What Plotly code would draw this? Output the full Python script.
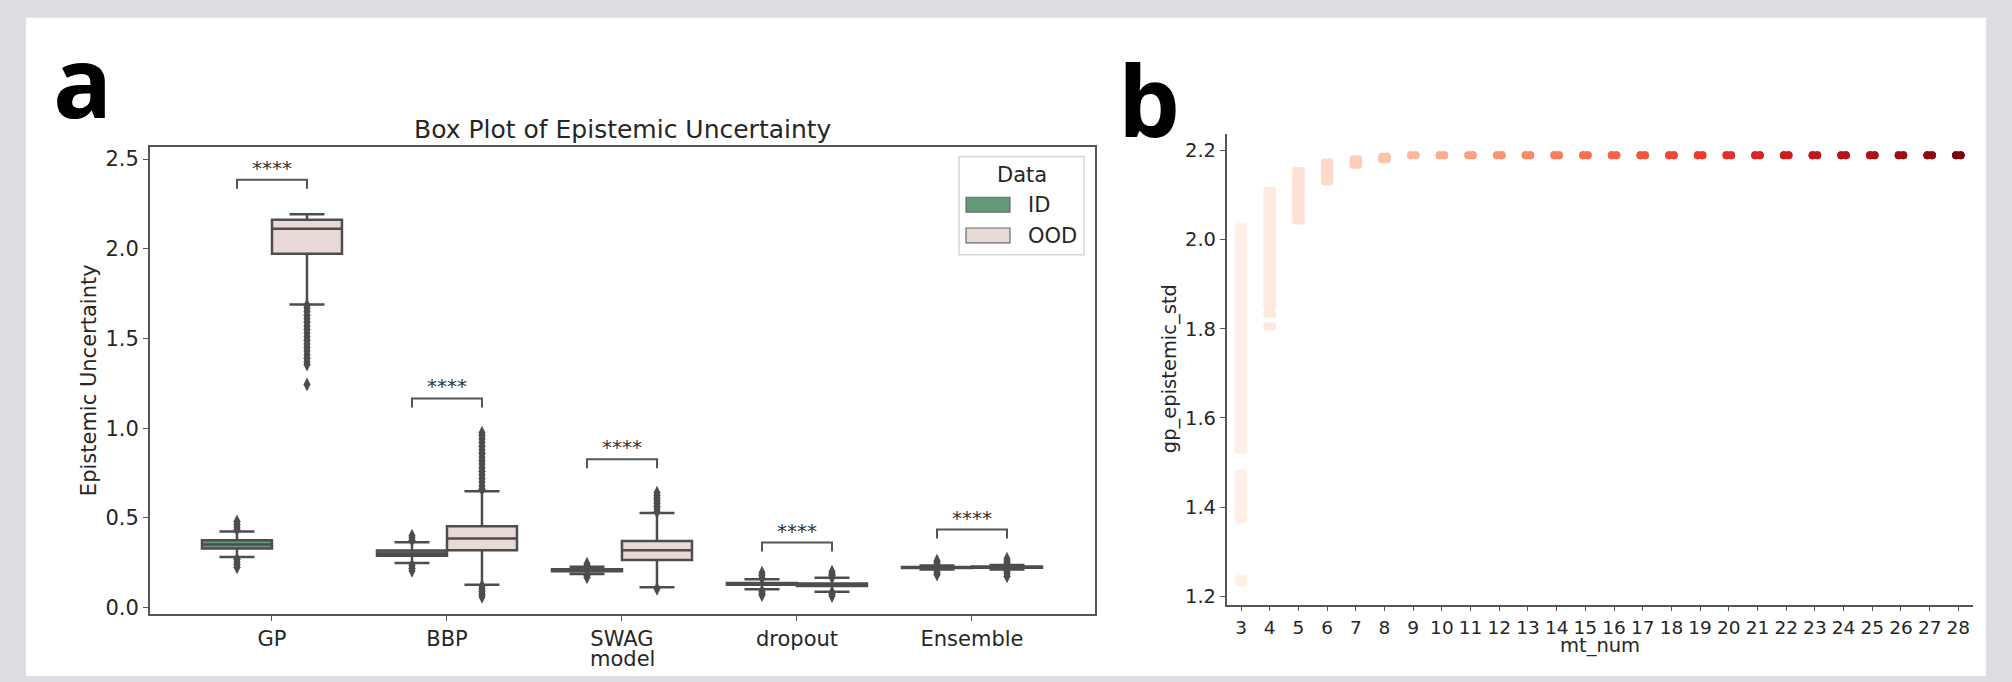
import plotly.graph_objects as go
from plotly.colors import sample_colorscale

# ---------------- data: panel a (box plot summary) ----------------
models = ["GP", "BBP", "SWAG", "dropout", "Ensemble"]
groups = ["ID", "OOD"]

id_q1     = [0.330, 0.289, 0.203, 0.127, 0.221]
id_median = [0.352, 0.302, 0.208, 0.133, 0.224]
id_q3     = [0.375, 0.318, 0.214, 0.138, 0.227]
id_lo     = [0.282, 0.249, 0.188, 0.103, 0.213]
id_hi     = [0.425, 0.365, 0.228, 0.158, 0.235]

ood_q1     = [1.972, 0.320, 0.265, 0.120, 0.222]
ood_median = [2.112, 0.385, 0.320, 0.127, 0.225]
ood_q3     = [2.162, 0.453, 0.372, 0.134, 0.229]
ood_lo     = [1.689, 0.127, 0.114, 0.088, 0.212]
ood_hi     = [2.193, 0.648, 0.527, 0.166, 0.238]

id_outliers = [
    [0.225, 0.240, 0.255, 0.270, 0.435, 0.450, 0.465, 0.480],
    [0.205, 0.220, 0.235, 0.375, 0.390, 0.400],
    [0.170, 0.180, 0.235, 0.245],
    [0.070, 0.080, 0.090, 0.165, 0.180, 0.195],
    [0.185, 0.195, 0.205, 0.245, 0.255, 0.262],
]
ood_outliers = [
    [1.243, 1.355, 1.370, 1.390, 1.410, 1.430, 1.450, 1.470, 1.490, 1.510,
     1.530, 1.550, 1.570, 1.590, 1.610, 1.630, 1.650, 1.670, 1.685],
    [0.060, 0.075, 0.090, 0.105, 0.120, 0.660, 0.680, 0.700, 0.720, 0.740,
     0.760, 0.780, 0.800, 0.820, 0.840, 0.860, 0.880, 0.900, 0.920, 0.940,
     0.960, 0.975],
    [0.105, 0.535, 0.550, 0.565, 0.580, 0.595, 0.610, 0.625, 0.640],
    [0.065, 0.075, 0.085, 0.170, 0.180, 0.190, 0.200],
    [0.175, 0.190, 0.200, 0.210, 0.240, 0.250, 0.260, 0.272],
]

bracket_top = [2.385, 1.166, 0.827, 0.363, 0.435]
sig_label = ["****", "****", "****", "****", "****"]

# ---------------- data: panel b (strip plot extents) ----------------
mt_values = [3, 4, 5, 6, 7, 8, 9, 10, 11, 12, 13, 14, 15, 16, 17, 18, 19, 20,
             21, 22, 23, 24, 25, 26, 27, 28]
band_mt = [3, 3, 3, 4, 4, 4, 5, 6, 7, 8,
           9, 10, 11, 12, 13, 14, 15, 16, 17, 18, 19, 20, 21, 22, 23, 24, 25, 26, 27, 28]
band_lo = [1.231, 1.372, 1.528, 1.805, 1.833, 1.850, 2.042, 2.130, 2.167, 2.180,
           2.189, 2.189, 2.189, 2.189, 2.189, 2.189, 2.189, 2.189, 2.189, 2.189,
           2.189, 2.189, 2.189, 2.189, 2.189, 2.189, 2.189, 2.189, 2.189, 2.189]
band_hi = [1.239, 1.476, 2.028, 1.805, 1.833, 2.110, 2.154, 2.173, 2.180, 2.186,
           2.189, 2.189, 2.189, 2.189, 2.189, 2.189, 2.189, 2.189, 2.189, 2.189,
           2.189, 2.189, 2.189, 2.189, 2.189, 2.189, 2.189, 2.189, 2.189, 2.189]

# ---------------- styling ----------------
W, H = 2012, 682
FONT = "DejaVu Sans"
TXT = "#262626"
LINE = "#4d4d4d"
ID_COLOR = "#659a78"
OOD_COLOR = "#e8d9d7"
BOX_OFFSET = 0.2
BOX_WIDTH = 0.4
LEG = 0.05
JITTER = [-0.08, 0.08]
DOT = 8


def px_x(px):
    return px / W


def px_y(py):
    return 1 - py / H


fig = go.Figure()

# panel a boxes
for gi, (grp, color, q1, med, q3, lo, hi, outs) in enumerate([
    ("ID", ID_COLOR, id_q1, id_median, id_q3, id_lo, id_hi, id_outliers),
    ("OOD", OOD_COLOR, ood_q1, ood_median, ood_q3, ood_lo, ood_hi, ood_outliers),
]):
    off = -BOX_OFFSET if gi == 0 else BOX_OFFSET
    for i, m in enumerate(models):
        fig.add_trace(go.Box(
            x=[i + off], q1=[q1[i]], median=[med[i]], q3=[q3[i]],
            lowerfence=[lo[i]], upperfence=[hi[i]],
            width=BOX_WIDTH, whiskerwidth=0.5,
            fillcolor=color, line=dict(color=LINE, width=2.5),
            name=grp, showlegend=False, hoverinfo="skip",
            xaxis="x", yaxis="y",
        ))
        fig.add_trace(go.Scatter(
            x=[i + off] * len(outs[i]), y=outs[i], mode="markers",
            marker=dict(symbol="diamond-tall", size=10, color=LINE),
            showlegend=False, hoverinfo="skip", xaxis="x", yaxis="y",
        ))

# significance brackets
for i, m in enumerate(models):
    t = bracket_top[i]
    fig.add_trace(go.Scatter(
        x=[i - BOX_OFFSET, i - BOX_OFFSET, i + BOX_OFFSET, i + BOX_OFFSET],
        y=[t - LEG, t, t, t - LEG], mode="lines",
        line=dict(color="#555555", width=2),
        showlegend=False, hoverinfo="skip", xaxis="x", yaxis="y",
    ))

annotations = []
for i, m in enumerate(models):
    annotations.append(dict(
        x=i, y=bracket_top[i], xref="x", yref="y", text=sig_label[i],
        showarrow=False, yanchor="middle", yshift=12,
        font=dict(family=FONT, size=20, color="#333333"),
    ))

# panel b strips
palette = sample_colorscale("Reds", [(k + 1) / (len(mt_values) + 1) for k in range(len(mt_values))])
for k, m in enumerate(mt_values):
    xs, ys = [], []
    for j in JITTER:
        for bm, lo, hi in zip(band_mt, band_lo, band_hi):
            if bm == m:
                xs += [m + j, m + j, None]
                ys += [lo, hi, None]
    fig.add_trace(go.Scatter(
        x=xs, y=ys, mode="lines+markers",
        line=dict(color=palette[k], width=DOT),
        marker=dict(color=palette[k], size=DOT),
        showlegend=False, hoverinfo="skip", xaxis="x2", yaxis="y2",
    ))

# ---------------- layout ----------------
axis_common = dict(
    showgrid=False, zeroline=False, ticks="outside", ticklen=5, tickwidth=1.3,
    tickcolor="#555555", showline=True, linecolor="#555555",
)

fig.update_layout(
    width=W, height=H,
    margin=dict(l=0, r=0, t=0, b=0),
    paper_bgcolor="#dcdde0",
    plot_bgcolor="white",
    boxmode="overlay",
    showlegend=False,
    font=dict(family=FONT, color=TXT),
    xaxis=dict(
        domain=[px_x(150), px_x(1095)], anchor="y",
        range=[-0.697, 4.703], tickmode="array",
        tickvals=list(range(len(models))), ticktext=models,
        mirror=True, linewidth=2,
        tickfont=dict(family=FONT, size=21, color=TXT),
        **axis_common,
    ),
    yaxis=dict(
        domain=[px_y(619), px_y(148)], anchor="x",
        range=[-0.033, 2.569], tickmode="array",
        tickvals=[0, 0.5, 1.0, 1.5, 2.0, 2.5],
        ticktext=["0.0", "0.5", "1.0", "1.5", "2.0", "2.5"],
        mirror=True, linewidth=2,
        tickfont=dict(family=FONT, size=21, color=TXT),
        **axis_common,
    ),
    xaxis2=dict(
        domain=[px_x(1226.7), px_x(1972.7)], anchor="y2",
        range=[2.5, 28.5], tickmode="array",
        tickvals=mt_values, ticktext=[str(v) for v in mt_values],
        linewidth=1.6,
        tickfont=dict(family=FONT, size=18.5, color=TXT),
        **axis_common,
    ),
    yaxis2=dict(
        domain=[px_y(610), px_y(135)], anchor="x2",
        range=[1.1816, 2.237], tickmode="array",
        tickvals=[1.2, 1.4, 1.6, 1.8, 2.0, 2.2],
        ticktext=["1.2", "1.4", "1.6", "1.8", "2.0", "2.2"],
        linewidth=1.6,
        tickfont=dict(family=FONT, size=19.5, color=TXT),
        **axis_common,
    ),
)

# white card background
shapes = [dict(
    type="rect", xref="paper", yref="paper",
    x0=px_x(26), x1=px_x(1986), y0=0, y1=px_y(18),
    fillcolor="white", line=dict(width=0), layer="below",
)]

# manual legend for panel a
shapes.append(dict(type="rect", xref="paper", yref="paper",
                   x0=px_x(959), x1=px_x(1084), y0=px_y(257), y1=px_y(158),
                   fillcolor="white", line=dict(color="#d6d6d6", width=1.5)))
shapes.append(dict(type="rect", xref="paper", yref="paper",
                   x0=px_x(966), x1=px_x(1010), y0=px_y(214), y1=px_y(199),
                   fillcolor=ID_COLOR, line=dict(color="#6a6a6a", width=1.2)))
shapes.append(dict(type="rect", xref="paper", yref="paper",
                   x0=px_x(966), x1=px_x(1010), y0=px_y(245), y1=px_y(230),
                   fillcolor=OOD_COLOR, line=dict(color="#6a6a6a", width=1.2)))

def ann(text, x, y, size, xanchor="center", yanchor="middle", angle=0,
        family=FONT, color=TXT, weight=None):
    f = dict(family=family, size=size, color=color)
    if weight:
        f["weight"] = weight
    return dict(text=text, x=px_x(x), y=px_y(y), xref="paper", yref="paper",
                showarrow=False, xanchor=xanchor, yanchor=yanchor,
                textangle=angle, font=f)

annotations += [
    ann("Data", 1022, 177, 21),
    ann("ID", 1026, 207, 21, xanchor="left"),
    ann("OOD", 1026, 238, 21, xanchor="left"),
    ann("Box Plot of Epistemic Uncertainty", 622.5, 131, 25),
    ann("Epistemic Uncertainty", 89, 383.5, 21, angle=-90),
    ann("model", 622.5, 665, 21),
    ann("gp_epistemic_std", 1169, 372.5, 19.5, angle=-90),
    ann("mt_num", 1600, 651, 19.5),
    ann("a", 51, 81, 98, xanchor="left", family="Open Sans", color="black", weight=700),
    ann("b", 1116, 100, 98, xanchor="left", family="Open Sans", color="black", weight=700),
]

fig.update_layout(shapes=shapes, annotations=annotations)
fig.write_html("out.html")
